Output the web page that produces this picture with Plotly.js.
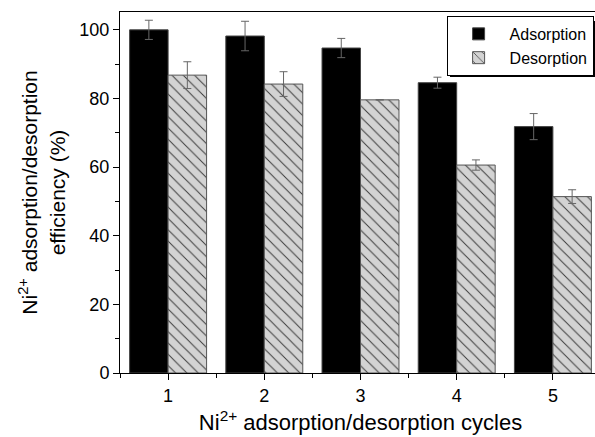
<!DOCTYPE html>
<html>
<head>
<meta charset="utf-8">
<script src="https://cdn.plot.ly/plotly-3.0.1.min.js"></script>
<style>
html,body{margin:0;padding:0;overflow:hidden;background:#fff;}
#chart{width:602px;height:437px;}
</style>
</head>
<body>
<div id="chart"></div>
<script>
const cycles = [1, 2, 3, 4, 5];
const tickLabels = ["1", "2", "3", "4", "5"];
const adsorption = [100.0, 98.2, 94.7, 84.6, 71.8];
const adsorptionErr = [2.8, 4.3, 2.8, 1.6, 3.8];
const desorption = [86.8, 84.2, 79.6, 60.6, 51.4];
const desorptionErr = [3.9, 3.6, 0, 1.5, 2.0];

const FONT = "Liberation Sans, Arial, sans-serif";

const traces = [
  {
    type: "bar", name: "Adsorption", x: cycles, y: adsorption,
    marker: {color: "#000000", line: {color: "#444444", width: 1}},
    error_y: {type: "data", array: adsorptionErr, visible: true, color: "#666666", thickness: 1, width: 4}
  },
  {
    type: "bar", name: "Desorption", x: cycles, y: desorption,
    marker: {color: "#d3d3d3", line: {color: "#555555", width: 1},
      pattern: {shape: "\\", fgcolor: "#3a3a3a", bgcolor: "#d3d3d3", size: 8, solidity: 0.12}},
    error_y: {type: "data", array: desorptionErr, visible: true, color: "#666666", thickness: 1, width: 4}
  }
];

const layout = {
  width: 602, height: 437,
  margin: {l: 120, r: 1, t: 12, b: 64},
  paper_bgcolor: "#ffffff", plot_bgcolor: "#ffffff",
  font: {family: FONT, size: 18, color: "#000"},
  barmode: "group", bargap: 0.2, bargroupgap: 0,
  showlegend: true,
  legend: {
    x: 0.679, y: 0.989, xanchor: "left", yanchor: "top",
    bgcolor: "#ffffff", bordercolor: "#000000", borderwidth: 1,
    font: {family: FONT, size: 16, color: "#000"},
    tracegroupgap: 0, itemwidth: 52
  },
  shapes: [
    {type: "rect", xref: "paper", yref: "paper", layer: "above",
     x0: 0.686, x1: 0.9895, y0: 0.82, y1: 0.975,
     fillcolor: "#000000", line: {width: 0}}
  ],
  xaxis: {
    range: [0.5, 5.5], tickmode: "array", tickvals: cycles, ticktext: tickLabels,
    ticks: "outside", ticklen: 6, tickwidth: 1, tickcolor: "#000",
    minor: {dtick: 0.5, tick0: 0.5, ticks: "outside", ticklen: 4, tickcolor: "#000"},
    showline: true, linecolor: "#000", linewidth: 1, mirror: true,
    showgrid: false, zeroline: false,
    tickfont: {family: FONT, size: 18},
    title: {text: "Ni<sup>2+</sup> adsorption/desorption cycles", font: {family: FONT, size: 22}, standoff: 10}
  },
  yaxis: {
    range: [0, 105.2], tickmode: "linear", tick0: 0, dtick: 20,
    ticks: "outside", ticklen: 6, tickwidth: 1, tickcolor: "#000",
    minor: {dtick: 10, ticks: "outside", ticklen: 4, tickcolor: "#000"},
    showline: true, linecolor: "#000", linewidth: 1, mirror: true,
    showgrid: false, zeroline: false,
    tickfont: {family: FONT, size: 18},
    title: {text: "Ni<sup>2+</sup> adsorption/desorption<br>efficiency (%)", font: {family: FONT, size: 21}, standoff: 8}
  }
};

Plotly.newPlot("chart", traces, layout, {displayModeBar: false, staticPlot: true});
</script>
</body>
</html>
